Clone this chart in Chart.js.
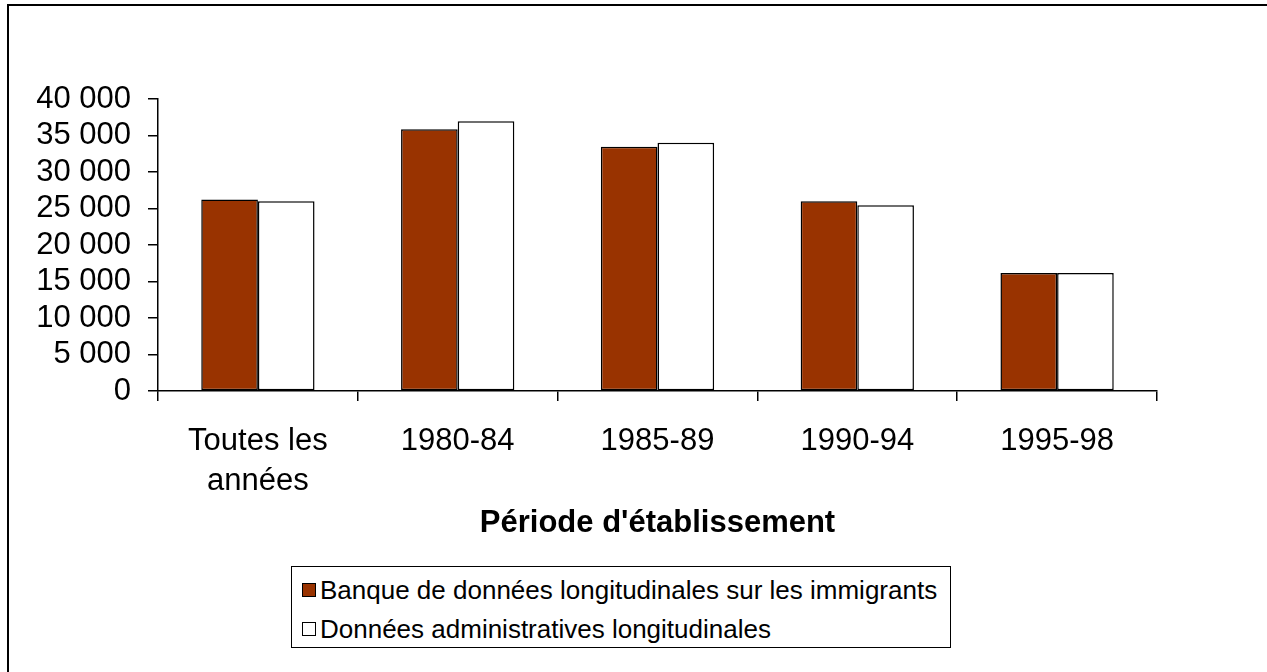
<!DOCTYPE html>
<html lang="fr">
<head>
    <meta charset="UTF-8">
    <title>Période d'établissement</title>
    <script src="https://cdn.jsdelivr.net/npm/chart.js"></script>
    <style>
        html, body { margin: 0; padding: 0; background: #fff; overflow: hidden; }
        body { width: 1267px; height: 672px; position: relative; font-family: "Liberation Sans", Arial, sans-serif; }
        /* outer frame, only left and top edges are visible */
        #frame { position: absolute; left: 7px; top: 4px; width: 1400px; height: 800px;
                 border-left: 2px solid #000; border-top: 2px solid #000; }
        #wrap { position: absolute; left: 0; top: 0; width: 1267px; height: 560px; }
        #legend { position: absolute; left: 291px; top: 566px; width: 658px; height: 80px;
                  border: 1.5px solid #000; box-sizing: content-box; }
        .row { position: absolute; left: 10px; height: 30px; display: flex; align-items: center;
               font-size: 26px; color: #000; white-space: nowrap; }
        .box { width: 12px; height: 12px; border: 1.5px solid #000; margin-right: 4px; }
    </style>
</head>
<body>
    <div id="frame"></div>
    <div id="wrap"><canvas id="chart"></canvas></div>
    <div id="legend"></div>

    <script>
        // Data
        const categories = [['Toutes les', 'années'], '1980-84', '1985-89', '1990-94', '1995-98'];
        const banqueValues = [26250, 35850, 33450, 26000, 16150];
        const adminValues = [26000, 36950, 34000, 25450, 16150];
        const yTickLabels = ['0', '5 000', '10 000', '15 000', '20 000', '25 000', '30 000', '35 000', '40 000'];
        const seriesNames = ['Banque de données longitudinales sur les immigrants', 'Données administratives longitudinales'];
        const seriesColors = ['#993300', '#ffffff'];
        const axisTitle = "Période d'établissement";

        Chart.defaults.font.family = '"Liberation Sans", Arial, sans-serif';
        Chart.defaults.color = '#000';

        const ctx = document.getElementById('chart').getContext('2d');
        const chart = new Chart(ctx, {
            type: 'bar',
            data: {
                labels: categories,
                datasets: [
                    { label: seriesNames[0], data: banqueValues, backgroundColor: seriesColors[0],
                      borderColor: '#000', borderWidth: 1.5, borderSkipped: false },
                    { label: seriesNames[1], data: adminValues, backgroundColor: seriesColors[1],
                      borderColor: '#000', borderWidth: 1.5, borderSkipped: false }
                ]
            },
            options: {
                responsive: true,
                maintainAspectRatio: false,
                animation: false,
                layout: { padding: { left: 0, top: 99, right: 110, bottom: 18 } },
                datasets: { bar: { categoryPercentage: 0.567, barPercentage: 1 } },
                plugins: { legend: { display: false }, tooltip: { enabled: false } },
                scales: {
                    x: {
                        grid: { display: true, drawOnChartArea: false, drawTicks: true, tickLength: 10,
                                color: '#000', lineWidth: 1.5, offset: true },
                        border: { display: true, color: '#000', width: 1.5 },
                        ticks: { color: '#000', font: { size: 31, lineHeight: 1.3 }, padding: 20,
                                 maxRotation: 0, autoSkip: false },
                        title: { display: true, text: axisTitle, color: '#000',
                                 font: { size: 31, weight: 'bold' }, padding: 0 },
                        afterFit: function (scale) { scale.height = 151; }
                    },
                    y: {
                        min: 0,
                        max: 40000,
                        grid: { display: true, drawOnChartArea: false, drawTicks: true, tickLength: 10,
                                color: '#000', lineWidth: 1.5 },
                        border: { display: true, color: '#000', width: 1.5 },
                        ticks: {
                            stepSize: 5000, autoSkip: false, color: '#000', font: { size: 31 }, padding: 17,
                            callback: function (value, index) { return yTickLabels[index]; }
                        },
                        afterFit: function (scale) { scale.width = 158; }
                    }
                }
            }
        });

        // Legend in a box below the axis title
        const legend = document.getElementById('legend');
        seriesNames.forEach(function (name, i) {
            const row = document.createElement('div');
            row.className = 'row';
            row.style.top = (8 + i * 39) + 'px';
            const box = document.createElement('span');
            box.className = 'box';
            box.style.background = seriesColors[i];
            row.appendChild(box);
            row.appendChild(document.createTextNode(name));
            legend.appendChild(row);
        });
    </script>
</body>
</html>
